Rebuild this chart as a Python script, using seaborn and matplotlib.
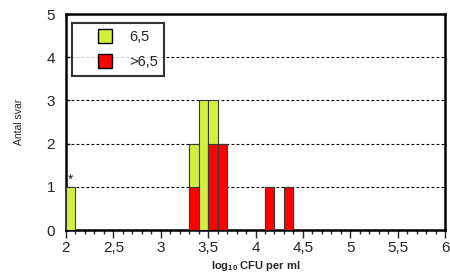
import numpy as np
import pandas as pd
import matplotlib
matplotlib.use("Agg")
import matplotlib.pyplot as plt
import seaborn as sns
from matplotlib.patches import Patch, Rectangle
from matplotlib.legend_handler import HandlerPatch
from matplotlib.ticker import MultipleLocator, FuncFormatter

bin_starts = [2.0, 3.3, 3.4, 3.5, 3.6, 4.1, 4.3]
green_counts = [1, 1, 3, 1, 0, 0, 0]
red_counts = [0, 1, 0, 2, 2, 1, 1]
legend_labels = ["6,5", ">6,5"]
x_ticks = [2, 2.5, 3, 3.5, 4, 4.5, 5, 5.5, 6]
y_ticks = [0, 1, 2, 3, 4, 5]

sns.set_style("white")
plt.rcParams['font.family'] = ['Liberation Sans', 'DejaVu Sans']
plt.rcParams['mathtext.fontset'] = 'custom'
plt.rcParams['mathtext.rm'] = 'Liberation Sans'
plt.rcParams['mathtext.bf'] = 'Liberation Sans:bold'

green = "#D4F03C"
red = "#FF0000"
edge = "#3a3a3a"

centers = [round(b + 0.05, 3) for b in bin_starts]
df = pd.DataFrame({
    "x": centers,
    "total": [g + r for g, r in zip(green_counts, red_counts)],
    "red": red_counts,
})

fig = plt.figure(figsize=(4.5, 2.73), dpi=100)
ax = fig.add_axes([66/450, 43/273, 379/450, 216/273])

sns.barplot(data=df, x="x", y="total", native_scale=True, width=1.0, color=green,
            saturation=1, edgecolor=edge, linewidth=0.8, ax=ax, zorder=3, errorbar=None)
sns.barplot(data=df, x="x", y="red", native_scale=True, width=1.0, color=red,
            saturation=1, edgecolor=edge, linewidth=0.8, ax=ax, zorder=4, errorbar=None)
for p in ax.patches:
    if p.get_height() == 0:
        p.set_visible(False)

ax.set_xlim(2, 6)
ax.set_ylim(0, 5)
ax.set_xticks(x_ticks)
ax.xaxis.set_minor_locator(MultipleLocator(0.1))
ax.set_yticks(y_ticks)
fmt = FuncFormatter(lambda v, p: (f"{v:g}").replace(".", ","))
ax.xaxis.set_major_formatter(fmt)
ax.yaxis.set_major_formatter(fmt)
ax.tick_params(axis="x", which="major", direction="out", length=6, width=1, labelsize=11, pad=2, bottom=True)
ax.tick_params(axis="x", which="minor", direction="out", length=3, width=1, bottom=True)
ax.tick_params(axis="y", which="major", direction="in", length=3, width=1, labelsize=11, pad=8, left=True)

for y in [1, 2, 3, 4]:
    ax.axhline(y, color="black", linestyle=(0, (2.5, 2)), linewidth=0.8, zorder=1)

for s in ax.spines.values():
    s.set_visible(True)
    s.set_color("black")
    s.set_linewidth(1.8)

ax.set_ylabel("Antal svar", fontsize=7.5, labelpad=16)
ax.set_xlabel(r"$\mathbf{log_{10}}$ CFU per ml", fontsize=8, fontweight="bold", labelpad=3)

ax.text(2.05, 1.0, "*", ha="center", va="bottom", fontsize=10)


def square_patch(legend, orig_handle, xdescent, ydescent, width, height, fontsize):
    s = height * 1.05
    return Rectangle((width - s - xdescent, -ydescent + (height - s) / 2), s, s)


handles = [Patch(facecolor=green, edgecolor="black", linewidth=1),
           Patch(facecolor=red, edgecolor="black", linewidth=1)]
leg = ax.legend(handles, legend_labels, loc="upper left", bbox_to_anchor=(0.016, 0.96),
                fontsize=10.5, frameon=True, fancybox=False, edgecolor="black",
                handlelength=2.3, handleheight=1.0, handletextpad=1.15,
                borderpad=0.45, labelspacing=0.75, borderaxespad=0,
                handler_map={Patch: HandlerPatch(patch_func=square_patch)})
leg.get_frame().set_linewidth(1.5)
leg.set_zorder(10)

fig.savefig("out.png", dpi=100)
